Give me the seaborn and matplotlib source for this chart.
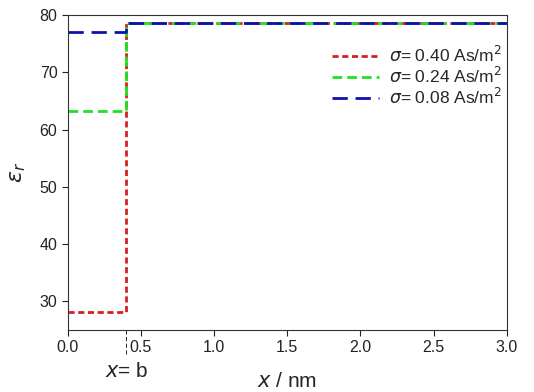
import numpy as np
import pandas as pd
import seaborn as sns
import matplotlib.pyplot as plt

# step profiles of the relative permittivity, jump at x = b
b = 0.4
x_ends = [0.0, 3.0]
eps_bulk = 78.5
sigmas = ["0.40", "0.24", "0.08"]
eps_inner = [28.2, 63.2, 77.0]
colors = ["#d42020", "#22e022", "#1010b0"]
dash_styles = [(2.2, 1.3), (3.5, 1.8), (5.5, 2.8)]

sns.set_style("ticks")
plt.rcParams['font.family'] = ['Liberation Sans', 'DejaVu Sans']
plt.rcParams['mathtext.fontset'] = 'dejavusans'

fig = plt.figure(figsize=(5.34, 3.92), dpi=100)
ax = fig.add_axes([0.127, 0.158, 0.822, 0.804])

# dashed guide at x = b below the axes
ax.plot([b, b], [-0.075, 0.0], transform=ax.get_xaxis_transform(), clip_on=False,
        color="black", lw=0.6, ls=(0, (5, 3)))

for sig, e0, c, d in zip(sigmas, eps_inner, colors, dash_styles):
    df = pd.DataFrame({"x": [x_ends[0], b, b, x_ends[1]],
                       "eps": [e0, e0, eps_bulk, eps_bulk]})
    sns.lineplot(data=df, x="x", y="eps", ax=ax, sort=False, estimator=None,
                 color=c, lw=2.0, dashes=False,
                 label=r"$\sigma$" + f"= {sig} As/m$^2$")
    ax.lines[-1].set_dashes(d)

ax.set_xlim(0, 3)
ax.set_ylim(25, 80)
ax.set_xticks(np.arange(0, 3.01, 0.5))
ax.set_yticks(np.arange(30, 81, 10))
ax.tick_params(labelsize=11.5, length=4, width=0.8, colors="#222222", labelcolor="#222222")
for s in ax.spines.values():
    s.set_linewidth(0.8)
    s.set_color("#333333")

ax.set_xlabel(r"$x$ / nm", fontsize=15, labelpad=12)
ax.set_ylabel(r"$\varepsilon_r$", fontsize=16, labelpad=8)
ax.text(b, -0.1, r"$x$= b", transform=ax.get_xaxis_transform(),
        ha="center", va="top", fontsize=15)

leg = ax.legend(loc="upper right", bbox_to_anchor=(1.025, 0.955), frameon=False,
                fontsize=12.5, handlelength=2.7, handletextpad=0.6,
                labelspacing=0.05)

fig.savefig("out.png", dpi=100)
